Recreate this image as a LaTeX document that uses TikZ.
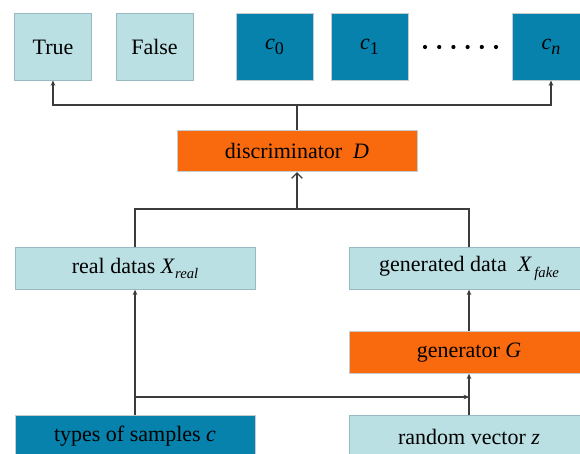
\documentclass[tikz,border=0pt]{standalone}
\usepackage{fontspec}
\setmainfont{Liberation Serif}
\usetikzlibrary{arrows.meta}

\definecolor{paleblue}{RGB}{187,224,228}
\definecolor{palerim}{RGB}{150,188,194}
\definecolor{deepblue}{RGB}{6,130,172}
\definecolor{flame}{RGB}{249,106,14}
\definecolor{greyrim}{RGB}{196,204,206}
\definecolor{wire}{RGB}{60,60,60}

% class label with a low, fairly large index
\newcommand{\classlbl}[1]{\textit{c}\raisebox{-0.45ex}{\fontsize{13.5}{15}\selectfont #1}}
% symbol with a small lowered index
\newcommand{\lowidx}[2]{\textit{#1}\raisebox{-0.55ex}{\fontsize{11}{13}\selectfont\itshape #2}}

\tikzset{
  box/.style={line width=0.75pt, inner sep=0pt, text=black,
    font=\fontsize{16.5}{19}\selectfont},
  lightbox/.style={box, draw=palerim, fill=paleblue},
  darkbox/.style={box, draw=greyrim, fill=deepblue},
  hotbox/.style={box, draw=greyrim, fill=flame},
  square/.style={minimum width=57.75pt, minimum height=49.5pt},
  wide/.style={minimum width=180pt, minimum height=31pt},
  link/.style={draw=wire, line width=0.9pt},
  feed/.style={link, -{Stealth[length=4pt,width=3.5pt]}},
}

\begin{document}
\begin{tikzpicture}[x=0.75pt,y=0.75pt,yscale=-1,xscale=1]
  \useasboundingbox (0,0) rectangle (580,453);
  \clip (0,0) rectangle (580,453);

  % outputs of the discriminator
  \node[lightbox, square] (true)  at (53,47)    {True};
  \node[lightbox, square] (false) at (154.5,47) {False};
  \node[darkbox, square]  (c0)    at (274.5,47) {\classlbl{0}};
  \node[darkbox, square]  (c1)    at (369.5,47) {\classlbl{1}};
  \node[darkbox, square]  (cn)    at (551,47)   {\classlbl{\itshape n}};
  \foreach \i in {0,...,5}
    \fill (425+\i*14.2,47) circle (2.1);

  % networks
  \node[hotbox, wide] (disc) at (297,151)   {discriminator\ \ \textit{D}};
  \node[hotbox, wide] (gen)  at (469,352.5) {generator \textit{G}};

  % data
  \node[lightbox, wide] (real) at (135,268.5) {real datas \lowidx{X}{real}};
  \node[lightbox, wide] (fake) at (469,268.5) {generated data\ \ \lowidx{X}{\,fake}};
  \node[darkbox, wide]  (types)  at (135,436.5) {types of samples \textit{c}};
  \node[lightbox, wide] (random) at (469,436.5) {random vector \textit{z}};

  \coordinate (topsplit) at (297,105);
  \coordinate (midsplit) at (297,209);
  \coordinate (branch)   at (469,397);

  % wiring
  \draw[link] (disc.north) -- (topsplit);
  \draw[feed] (topsplit) -| (true.south);
  \draw[feed] (topsplit) -| (cn.south);
  \draw[link] (real.north) |- (midsplit);
  \draw[link] (fake.north) |- (midsplit);
  \draw[link, -{Straight Barb[length=4pt,width=8pt,line width=0.9pt]}] (midsplit) -- (disc.south);
  \draw[feed] (types.north) -- (real.south);
  \draw[feed] (types.north |- branch) -- (branch);
  \draw[feed] (random.north) -- (gen.south);
  \draw[feed] (gen.north) -- (fake.south);
\end{tikzpicture}
\end{document}
